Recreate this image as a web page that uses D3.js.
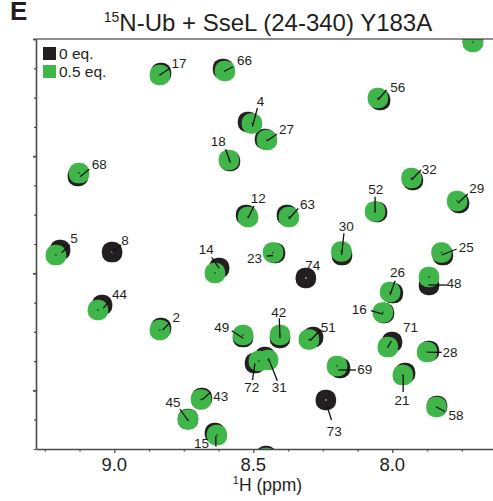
<!DOCTYPE html>
<html>
<head>
<meta charset="utf-8">
<script src="https://cdn.jsdelivr.net/npm/d3@7"></script>
<style>
  html, body { margin: 0; padding: 0; background: #fff; }
  svg { display: block; font-family: "Liberation Sans", Arial, sans-serif; }
</style>
</head>
<body>
<div id="chart"></div>
<script>
// 15N-Ub HSQC overlay, free (0 eq.) vs 0.5 eq. SseL (24-340) Y183A

// residue labels ('' = unlabelled peak at the edge of the window)
const peakIds = ['17', '66', '4', '27', '18', '12', '63', '56', '32', '68',
  '52', '29', '30', '23', '74', '25', '48', '26', '16', '71',
  '28', '21', '58', '69', '73', '51', '42', '49', '72', '31',
  '14', '5', '8', '44', '2', '43', '45', '15', '', '']

// 0 eq. peak positions (1H ppm, 15N ppm)
const freeH = [8.832, 8.609, 8.519, 8.458, 8.584, 8.526, 8.379, 8.044, 7.926, 9.131,
  8.055, 7.760, 8.181, 8.422, 8.311, 7.818, 7.868, 7.998, 8.030, 8.001,
  7.868, 7.954, 7.839, 8.188, 8.239, 8.285, 8.404, 8.537, 8.494, 8.458,
  8.623, 9.195, 9.008, 9.044, 8.832, 8.685, 8.735, 8.638, 7.710, 8.454]
const freeN = [106.451, 106.280, 108.543, 109.268, 110.207, 112.512, 112.512, 107.604, 111.018, 110.848,
  112.384, 112.000, 114.220, 114.134, 115.201, 114.220, 115.500, 115.842, 116.695, 117.933,
  118.317, 119.256, 120.665, 119.043, 120.409, 117.720, 117.762, 117.720, 118.830, 118.573,
  114.774, 114.006, 114.092, 116.354, 117.335, 120.323, 121.220, 121.817, 105.085, 122.799]

// 0.5 eq. peak positions (null = peak broadened beyond detection)
const boundH = [8.836, 8.602, 8.505, 8.451, 8.588, 8.519, 8.372, 8.052, 7.931, 9.127,
  8.062, 7.767, 8.183, 8.429, null, 7.823, 7.868, 8.008, 8.034, 8.016,
  7.875, 7.962, 7.841, 8.199, null, 8.300, 8.404, 8.537, 8.480, 8.447,
  8.638, 9.210, null, 9.059, 8.836, 8.688, 8.735, 8.631, 7.710, 8.454]
const boundN = [106.537, 106.366, 108.607, 109.311, 110.165, 112.598, 112.598, 107.518, 110.933, 110.720,
  112.363, 111.915, 114.070, 114.113, null, 114.113, 115.159, 115.799, 116.674, 118.147,
  118.360, 119.342, 120.707, 118.958, null, 117.826, 117.634, 117.634, 118.744, 118.701,
  114.988, 114.220, null, 116.567, 117.421, 120.387, 121.241, 121.903, 105.128, 122.884]

// label placement in px from the peak: [line x1, y1, line x2, y2, text x, text y]
const labelLayout = [
  [0, 0, 10, -6.7, 19, -11.7], [0, 0, 8, -4.3, 19.5, -10.7], [0.5, 3, 5.5, -15.5, 8.5, -22.2],
  [0, 1, 10, -6, 19.5, -11.2], [1.7, 2.7, -3.3, -10.7, -10.7, -19], [0, 1, 6, -11, 10.3, -18.4],
  [0, 2, 9.3, -8.7, 18.5, -12.4], [0, 2, 8.7, -8, 19.8, -10.4], [0, 2, 9.5, -8, 17.7, -8.7],
  [1, 3.7, 10.3, -3.7, 20.3, -8.4], [0, 1, 0, -14.8, 0.8, -22.2], [1, 2, 10.7, -7, 19.7, -12.4],
  [0.2, 3.5, 2.5, -18.2, 4.8, -25.5], [0, 3, -6.3, 3.5, -18.5, 5.5], [null, null, null, null, 6.8, -12.7],
  [0.2, 2.5, 15.2, -3.5, 24.8, -5.5], [-0.7, 8, 17.7, 8, 25, 6.6], [0, 3, 5, -11.3, 7.5, -20],
  [0, 1.5, -12, -1.8, -23.7, -3.2], [0, 0, 3.5, -6, 22.7, -20], [1.3, 0.3, 14.7, 0.3, 23, 0],
  [0.3, 0, 0.3, 17, -0.8, 25.3], [0, 0, 8.5, 4.7, 19.5, 8.3], [1.3, 4, 19, 4, 27.7, 3.3],
  [1.3, 6.7, 5.7, 20, 8.5, 31.3], [1, 1.2, 11, -8.8, 19.3, -12.5], [0, 3.3, -0.7, -16.7, -1.2, -23],
  [0.3, 3.3, -11.3, -4.3, -21.2, -8], [-4, 2.3, -6.3, 19, -7, 26], [0.3, -1.7, 9.3, 20.7, 11.3, 27],
  [4.3, -4.7, -3.3, -15.7, -8.8, -23.4], [5.7, -2.3, 14, -10, 18, -16.4], [0, 0, 9, -7, 13, -11.7],
  [5.3, -1.7, 12, -10, 21.7, -15.4], [2.7, 0, 10, -7.3, 16.3, -12.4], [0.7, 0.5, 9.7, -7.2, 19.8, -3.5],
  [0.3, 1.5, -8, -10.5, -15, -16.9], [-1, 1, -1, 11.7, -15.3, 8], null, null
]

const xTicks = d3.range(9.25, 7.7, -0.125)
const xTickLabels = [9.0, 8.5, 8.0]
const yTicks = d3.range(105, 122.6, 1.25)

const seriesNames = ['0 eq.', '0.5 eq.']
const colors = ['#231f20', '#3fb54a']

const W = 493, H = 501
const plot = { left: 36, right: 493, top: 39, bottom: 449 }

const x = d3.scaleLinear().domain([9.2817, 7.6378]).range([plot.left, plot.right])
const y = d3.scaleLinear().domain([105, 122.5]).range([plot.top, plot.bottom])

const svg = d3.select('#chart').append('svg')
  .attr('width', W)
  .attr('height', H)

svg.append('defs').append('clipPath')
  .attr('id', 'plotclip')
  .append('rect')
  .attr('x', plot.left)
  .attr('y', plot.top)
  .attr('width', plot.right - plot.left)
  .attr('height', plot.bottom - plot.top)

// panel letter + title
svg.append('text')
  .attr('x', 10)
  .attr('y', 20)
  .attr('font-size', 26)
  .attr('font-weight', 'bold')
  .attr('fill', '#231f20')
  .text('E')

const title = svg.append('text')
  .attr('x', 268)
  .attr('y', 30.5)
  .attr('text-anchor', 'middle')
  .attr('font-size', 24)
  .attr('fill', '#231f20')
title.append('tspan').attr('font-size', 14).attr('dy', -9).text('15')
title.append('tspan').attr('dy', 9).text('N-Ub + SseL (24-340) Y183A')

// peaks
const peaks = peakIds.map((id, i) => ({
  id,
  fh: freeH[i], fn: freeN[i],
  bh: boundH[i], bn: boundN[i],
  lay: labelLayout[i]
}))

const g = svg.append('g').attr('clip-path', 'url(#plotclip)')
const S = 20.5

g.selectAll('.free')
  .data(peaks)
  .join('rect')
  .attr('class', 'free')
  .attr('x', d => x(d.fh) - S / 2)
  .attr('y', d => y(d.fn) - S / 2)
  .attr('width', S)
  .attr('height', S)
  .attr('rx', 9)
  .attr('fill', colors[0])

const bound = peaks.filter(d => d.bh != null)
g.selectAll('.bound')
  .data(bound)
  .join('rect')
  .attr('class', 'bound')
  .attr('x', d => x(d.bh) - S / 2)
  .attr('y', d => y(d.bn) - S / 2)
  .attr('width', S)
  .attr('height', S)
  .attr('rx', 9)
  .attr('fill', colors[1])

// little centre marks
g.selectAll('.dot')
  .data(peaks)
  .join('circle')
  .attr('class', 'dot')
  .attr('cx', d => x(d.bh ?? d.fh))
  .attr('cy', d => y(d.bn ?? d.fn))
  .attr('r', 1)
  .attr('fill', d => d.bh != null ? '#2d5a30' : '#9a9a9a')

// leader lines + residue numbers
const anchor = d => [x(d.bh ?? d.fh), y(d.bn ?? d.fn)]
const labelled = peaks.filter(d => d.lay)

svg.selectAll('.lead')
  .data(labelled.filter(d => d.lay[0] != null))
  .join('line')
  .attr('class', 'lead')
  .attr('x1', d => anchor(d)[0] + d.lay[0])
  .attr('y1', d => anchor(d)[1] + d.lay[1])
  .attr('x2', d => anchor(d)[0] + d.lay[2])
  .attr('y2', d => anchor(d)[1] + d.lay[3])
  .attr('stroke', '#111')
  .attr('stroke-width', 1.3)

svg.selectAll('.lab')
  .data(labelled)
  .join('text')
  .attr('class', 'lab')
  .attr('x', d => anchor(d)[0] + d.lay[4])
  .attr('y', d => anchor(d)[1] + d.lay[5])
  .attr('dy', '0.35em')
  .attr('text-anchor', 'middle')
  .attr('font-size', 13.5)
  .attr('fill', '#231f20')
  .text(d => d.id)

// frame: top line, left + bottom axes
svg.append('line')
  .attr('x1', plot.left).attr('x2', plot.right)
  .attr('y1', plot.top).attr('y2', plot.top)
  .attr('stroke', '#231f20').attr('stroke-width', 1.2)

const yAxis = svg.append('g')
  .attr('transform', `translate(${plot.left},0)`)
  .call(d3.axisLeft(y).tickValues(yTicks).tickSize(0).tickFormat(''))
yAxis.select('.domain').attr('stroke', '#4a4a4a').attr('stroke-width', 1.6)
yAxis.selectAll('.tick line')
  .attr('x2', d => (d - 105) % 5 === 0 ? -3 : -2)
  .attr('stroke', '#4a4a4a')
  .attr('stroke-width', d => (d - 105) % 5 === 0 ? 1.8 : 1.2)

const xAxis = svg.append('g')
  .attr('transform', `translate(0,${plot.bottom})`)
  .call(d3.axisBottom(x).tickValues(xTicks).tickSize(0).tickFormat(''))
xAxis.select('.domain').attr('stroke', '#4a4a4a').attr('stroke-width', 1.6)
xAxis.selectAll('.tick line')
  .attr('y2', d => xTickLabels.some(v => Math.abs(v - d) < 1e-6) ? 4 : 2.5)
  .attr('stroke', '#4a4a4a')
  .attr('stroke-width', 1.3)

svg.selectAll('.xlab')
  .data(xTickLabels)
  .join('text')
  .attr('class', 'xlab')
  .attr('x', d => x(d))
  .attr('y', 471)
  .attr('text-anchor', 'middle')
  .attr('font-size', 18.5)
  .attr('fill', '#231f20')
  .text(d => d.toFixed(1))

const xTitle = svg.append('text')
  .attr('x', (plot.left + plot.right) / 2 + 3)
  .attr('y', 490.5)
  .attr('text-anchor', 'middle')
  .attr('font-size', 17.5)
  .attr('fill', '#231f20')
xTitle.append('tspan').attr('font-size', 11).attr('dy', -7).text('1')
xTitle.append('tspan').attr('dy', 7).text('H (ppm)')

// legend
const leg = svg.append('g')
seriesNames.forEach((name, i) => {
  leg.append('rect')
    .attr('x', 43)
    .attr('y', 47 + i * 18)
    .attr('width', 13)
    .attr('height', 13)
    .attr('fill', colors[i])
  leg.append('text')
    .attr('x', 59)
    .attr('y', 59 + i * 18)
    .attr('font-size', 15.5)
    .attr('fill', '#231f20')
    .text(name)
})
</script>
</body>
</html>
